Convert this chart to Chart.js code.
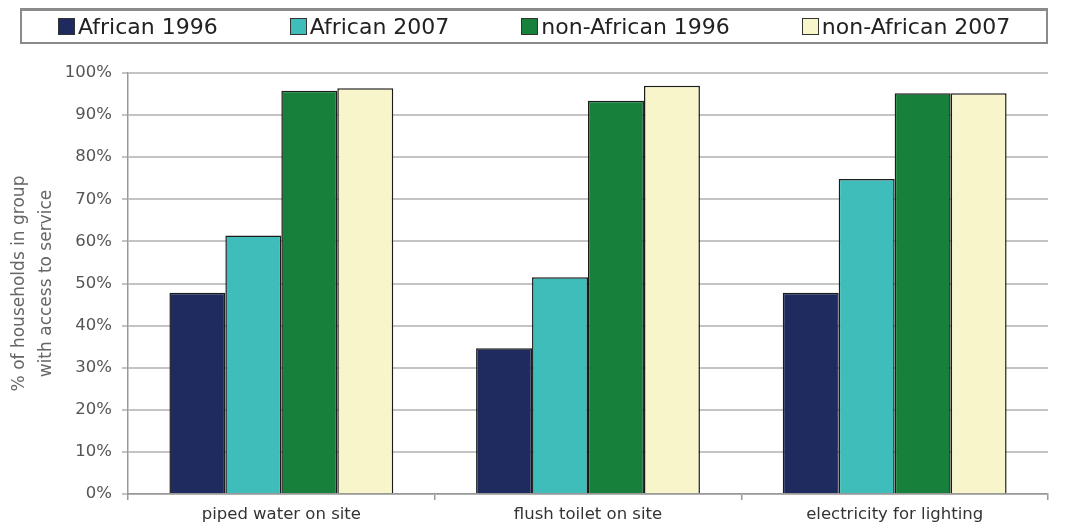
<!DOCTYPE html>
<html>
<head>
<meta charset="utf-8">
<script src="https://cdn.jsdelivr.net/npm/chart.js@4"></script>
<style>
    html, body { margin: 0; padding: 0; background: #fff; }
    #wrap { position: relative; width: 1066px; height: 524px; }
    #chartBox { position: absolute; left: 0; top: 0; width: 1066px; height: 524px; }
    #legend {
        position: absolute; left: 20px; top: 8px; width: 1028px; height: 36px;
        border: 2px solid #8a8a8a; border-top-width: 3px; display: flex; align-items: center;
        padding-left: 36px; box-sizing: border-box;
        font-family: 'DejaVu Sans', sans-serif; font-size: 22px; color: #222;
    }
    #legend .item { display: flex; align-items: center; margin-right: 72px; white-space: nowrap; }
    #legend .swatch { width: 15px; height: 15px; border: 1px solid #333; margin-right: 3px; }
</style>
</head>
<body>
<div id="wrap">
    <div id="chartBox"><canvas id="accessChart"></canvas></div>
    <div id="legend"></div>
</div>
<script>
// Data
const categories = ['piped water on site', 'flush toilet on site', 'electricity for lighting'];
const seriesNames = ['African 1996', 'African 2007', 'non-African 1996', 'non-African 2007'];
const african1996 = [47.8, 34.6, 47.8];
const african2007 = [61.4, 51.5, 74.8];
const nonAfrican1996 = [95.8, 93.4, 95.2];
const nonAfrican2007 = [96.4, 97.0, 95.2];
const yTicks = [0, 10, 20, 30, 40, 50, 60, 70, 80, 90, 100];

const seriesValues = [african1996, african2007, nonAfrican1996, nonAfrican2007];
const seriesColors = ['#1f2b5e', '#3fbdbb', '#17803a', '#f7f5c9'];

// HTML legend with the boxed look of the original
const legendEl = document.getElementById('legend');
seriesNames.forEach((name, i) => {
    const item = document.createElement('div');
    item.className = 'item';
    item.innerHTML = '<span class="swatch" style="background:' + seriesColors[i] + '"></span>' + name;
    legendEl.appendChild(item);
});

const ctx = document.getElementById('accessChart').getContext('2d');
const accessChart = new Chart(ctx, {
    type: 'bar',
    data: {
        labels: categories,
        datasets: seriesNames.map((name, i) => ({
            label: name,
            data: seriesValues[i],
            backgroundColor: seriesColors[i],
            borderColor: '#1c1c1c',
            borderWidth: 1.5,
            categoryPercentage: 0.73,
            barPercentage: 1.0
        }))
    },
    options: {
        responsive: true,
        maintainAspectRatio: false,
        animation: false,
        layout: {
            padding: { top: 73, right: 18, bottom: 0, left: 0 }
        },
        plugins: {
            legend: { display: false },
            tooltip: { enabled: false }
        },
        scales: {
            x: {
                grid: {
                    drawOnChartArea: false,
                    drawTicks: true,
                    tickLength: 6,
                    color: '#999',
                    lineWidth: 1.5
                },
                border: { color: '#999', width: 1.5 },
                ticks: {
                    color: '#333',
                    padding: 5,
                    font: { family: 'DejaVu Sans', size: 16.5 }
                },
                afterFit: function(scale) { scale.height = 30; }
            },
            y: {
                min: 0,
                max: 100,
                afterBuildTicks: function(scale) {
                    scale.ticks = yTicks.map(v => ({ value: v }));
                },
                grid: {
                    color: '#c4c4c4',
                    lineWidth: 2,
                    tickLength: 6
                },
                border: { color: '#999', width: 1.5 },
                ticks: {
                    color: '#555',
                    padding: 10,
                    font: { family: 'DejaVu Sans', size: 16.5 },
                    callback: function(value) { return value + '%'; }
                },
                title: {
                    display: true,
                    text: ['% of households in group', 'with access to service'],
                    color: '#666',
                    font: { family: 'DejaVu Sans', size: 17, lineHeight: 1.6 },
                    padding: { top: 6, bottom: 0 }
                },
                afterFit: function(scale) { scale.width = 128; }
            }
        }
    }
});
</script>
</body>
</html>
